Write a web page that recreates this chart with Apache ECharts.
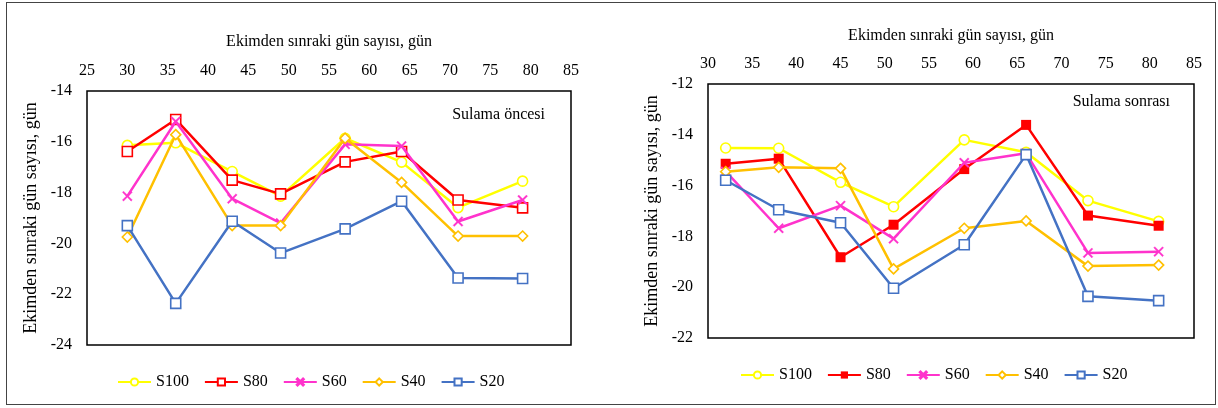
<!DOCTYPE html>
<html>
<head>
<meta charset="utf-8">
<script src="https://cdn.jsdelivr.net/npm/echarts@6/dist/echarts.min.js"></script>
<style>
  html, body { margin: 0; padding: 0; background: #fff; }
  #frame { position: absolute; left: 6px; top: 2px; width: 1208px; height: 401px; border: 1.5px solid #444; }
  #c1 { position: absolute; left: 0; top: 0; width: 609px; height: 408px; }
  #c2 { position: absolute; left: 609px; top: 0; width: 609px; height: 408px; }
</style>
</head>
<body>
<div id="frame"></div>
<div id="c1"></div>
<div id="c2"></div>
<script>
// ---- Data ----
const seriesNames = ['S100', 'S80', 'S60', 'S40', 'S20'];
const axisTitle = 'Ekimden sınraki gün sayısı, gün';

// Left chart: Sulama öncesi
const daysBefore = [30, 36, 43, 49, 57, 64, 71, 79];
const s100Before = [-16.14, -16.04, -17.17, -18.14, -15.86, -16.80, -18.59, -17.55];
const s80Before  = [-16.38, -15.12, -17.51, -18.05, -16.79, -16.38, -18.29, -18.60];
const s60Before  = [-18.14, -15.20, -18.24, -19.20, -16.10, -16.17, -19.14, -18.29];
const s40Before  = [-19.75, -15.72, -19.30, -19.30, -15.86, -17.60, -19.71, -19.71];
const s20Before  = [-19.30, -22.36, -19.13, -20.38, -19.43, -18.34, -21.36, -21.38];

// Right chart: Sulama sonrası
const daysAfter = [32, 38, 45, 51, 59, 66, 73, 81];
const s100After = [-14.52, -14.53, -15.87, -16.83, -14.20, -14.69, -16.59, -17.41];
const s80After  = [-15.14, -14.94, -18.82, -17.54, -15.35, -13.61, -17.18, -17.58];
const s60After  = [-15.44, -17.68, -16.79, -18.09, -15.10, -14.73, -18.65, -18.60];
const s40After  = [-15.45, -15.28, -15.32, -19.28, -17.68, -17.39, -19.17, -19.13];
const s20After  = [-15.79, -16.95, -17.46, -20.04, -18.33, -14.78, -20.36, -20.53];

const FONT = 'Liberation Serif';
const colors = ['#FFFF00', '#FF0000', '#FF33CC', '#FFC000', '#4472C4'];
const xPath = 'path://M0,1.2L1.2,0L5,3.8L8.8,0L10,1.2L6.2,5L10,8.8L8.8,10L5,6.2L1.2,10L0,8.8L3.8,5Z';

function pairs(xs, ys) { return xs.map((x, i) => [x, ys[i]]); }

function makeSeries(xs, lists, s80Filled) {
  const symbols = ['circle', 'rect', xPath, 'diamond', 'rect'];
  const sizes = [10, 10, 10, 10, 10];
  return lists.map((ys, i) => {
    const filled = (i === 2) || (i === 1 && s80Filled);
    return {
      name: seriesNames[i],
      type: 'line',
      data: pairs(xs, ys),
      symbol: symbols[i],
      symbolSize: sizes[i],
      showSymbol: true,
      lineStyle: { color: colors[i], width: 2.5 },
      itemStyle: {
        color: filled ? colors[i] : '#ffffff',
        borderColor: colors[i],
        borderWidth: filled ? (i === 2 ? 0.3 : 0) : 1.6
      },
      emphasis: { disabled: true },
      z: 2 + i
    };
  });
}

function makeOption(cfg) {
  return {
    animation: false,
    textStyle: { fontFamily: FONT, color: '#000' },
    grid: {
      left: cfg.grid.left, top: cfg.grid.top, width: cfg.grid.width, height: cfg.grid.height,
      show: true, borderColor: '#000', borderWidth: 1.5, backgroundColor: 'transparent'
    },
    xAxis: {
      type: 'value', position: 'top',
      min: cfg.xmin, max: 85, interval: 5,
      name: axisTitle, nameLocation: 'middle', nameGap: cfg.xNameGap,
      nameTextStyle: { fontFamily: FONT, fontSize: 16, color: '#000' },
      axisLine: { show: false }, axisTick: { show: false }, splitLine: { show: false },
      axisLabel: { fontFamily: FONT, fontSize: 16, color: '#000', margin: 12 }
    },
    yAxis: {
      type: 'value',
      min: cfg.ymin, max: cfg.ymax, interval: 2,
      name: axisTitle, nameLocation: 'middle', nameGap: cfg.yNameGap, nameRotate: 90,
      nameTextStyle: { fontFamily: FONT, fontSize: 18, color: '#000' },
      axisLine: { show: false }, axisTick: { show: false }, splitLine: { show: false },
      axisLabel: { fontFamily: FONT, fontSize: 16, color: '#000', margin: 15 }
    },
    legend: {
      data: seriesNames,
      left: cfg.legendLeft, top: cfg.legendTop, padding: 0,
      itemWidth: 33, itemHeight: 9, itemGap: 15,
      textStyle: { fontFamily: FONT, fontSize: 16, color: '#000' },
      selectedMode: false
    },
    graphic: [{
      type: 'text',
      right: cfg.label.right, top: cfg.label.top,
      style: { text: cfg.label.text, font: '16px "' + FONT + '"', fill: '#000' }
    }],
    series: makeSeries(cfg.xs, cfg.lists, cfg.s80Filled)
  };
}

const chart1 = echarts.init(document.getElementById('c1'), null, { renderer: 'canvas' });
chart1.setOption(makeOption({
  grid: { left: 87, top: 91, width: 484, height: 254 },
  xmin: 25, ymin: -24, ymax: -14,
  xNameGap: 41, yNameGap: 44,
  legendLeft: 117, legendTop: 374,
  label: { text: 'Sulama öncesi', right: 64, top: 107 },
  xs: daysBefore,
  lists: [s100Before, s80Before, s60Before, s40Before, s20Before],
  s80Filled: false
}));

const chart2 = echarts.init(document.getElementById('c2'), null, { renderer: 'canvas' });
chart2.setOption(makeOption({
  grid: { left: 99, top: 84, width: 486, height: 254 },
  xmin: 30, ymin: -22, ymax: -12,
  xNameGap: 40, yNameGap: 34,
  legendLeft: 131, legendTop: 367,
  label: { text: 'Sulama sonrası', right: 48, top: 94 },
  xs: daysAfter,
  lists: [s100After, s80After, s60After, s40After, s20After],
  s80Filled: true
}));
</script>
</body>
</html>
